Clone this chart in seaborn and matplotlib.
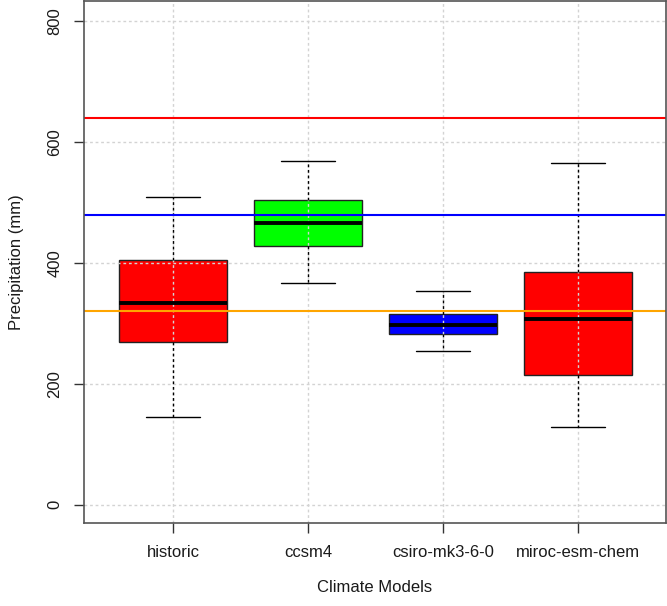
import numpy as np
import pandas as pd
import matplotlib
matplotlib.use("Agg")
import matplotlib.pyplot as plt
import seaborn as sns

# Precipitation summaries per climate model: min, Q1, median, Q3, max (mm)
models = ["historic", "ccsm4", "csiro-mk3-6-0", "miroc-esm-chem"]
historic = [145, 270, 333, 405, 509]
ccsm4 = [366, 428, 466, 504, 569]
csiro = [254, 283, 297, 316, 353]
miroc = [128, 215, 307, 385, 565]
box_colors = ["#ff0000", "#00ff00", "#0000ff", "#ff0000"]

# Horizontal reference levels (mm)
ref_levels = [640, 480, 320]
ref_colors = ["#ff0000", "#0000ff", "#ffa500"]

y_ticks = [0, 200, 400, 600, 800]

df = pd.DataFrame({
    "model": np.repeat(models, 5),
    "precip": historic + ccsm4 + csiro + miroc,
})

sns.set_style("white")
plt.rcParams["font.family"] = ["Liberation Sans", "DejaVu Sans"]

fig = plt.figure(figsize=(6.67, 6.06), dpi=100)
ax = fig.add_axes([84 / 667, 83 / 606, 582 / 667, 522 / 606])

sns.boxplot(
    data=df, x="model", y="precip", hue="model", order=models,
    hue_order=models, palette=box_colors, legend=False, saturation=1,
    width=0.8, whis=(0, 100), showfliers=False, linewidth=1,
    linecolor="#222222",
    medianprops=dict(color="black", linewidth=2.8),
    whiskerprops=dict(color="black", linewidth=1, linestyle=(0, (2, 2))),
    capprops=dict(color="black", linewidth=1),
    ax=ax,
)
# boxes sit under the grid, whiskers/caps/medians above it
for patch in ax.patches:
    patch.set_zorder(1)
for line in ax.lines:
    line.set_zorder(4)

for level, color in zip(ref_levels, ref_colors):
    ax.axhline(level, color=color, linewidth=1.5, zorder=4.5)

ax.grid(True, color="#d3d3d3", linestyle=(0, (2, 2)), linewidth=1)
ax.xaxis.set_zorder(3.5)
ax.yaxis.set_zorder(3.5)

ax.set_xlim(-0.659, 3.652)
ax.set_ylim(-30, 833)
ax.set_yticks(y_ticks)
ax.set_yticklabels([str(v) for v in y_ticks], rotation=90, va="center")

for side in ["left", "right", "top", "bottom"]:
    ax.spines[side].set_visible(True)
    ax.spines[side].set_color("#555555")
    ax.spines[side].set_linewidth(1.2)
    ax.spines[side].set_zorder(5)

ax.tick_params(axis="both", which="major", length=7.5, width=1, color="#333333",
               labelsize=12, labelcolor="#1a1a1a", left=True, bottom=True)
ax.tick_params(axis="x", pad=8)
ax.tick_params(axis="y", pad=8)

ax.set_xlabel("Climate Models", fontsize=12, color="#1a1a1a", labelpad=15)
ax.set_ylabel("Precipitation (mm)", fontsize=12, color="#1a1a1a", labelpad=17)

fig.savefig("out.png", dpi=100)
